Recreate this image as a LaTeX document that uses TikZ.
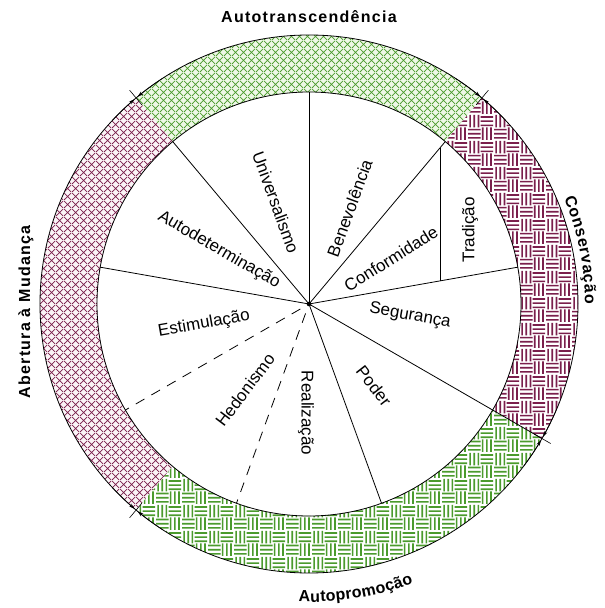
\documentclass[tikz,border=0pt]{standalone}
\usepackage{fontspec}
\setmainfont{Liberation Sans}
\usetikzlibrary{patterns,decorations.text,arrows.meta}

\definecolor{grnline}{HTML}{4B9B2D}
\definecolor{grnfill}{HTML}{EEF8E6}
\definecolor{purline}{HTML}{7A1F4C}
\definecolor{purfill}{HTML}{FBF4F7}

% basket weave: checkerboard of cells holding three parallel bars
\pgfdeclarepatternformonly{weave}{\pgfqpoint{0pt}{0pt}}{\pgfqpoint{26pt}{26pt}}{\pgfqpoint{26pt}{26pt}}{%
  \pgfsetlinewidth{1.7pt}%
  \foreach \o in {2.2,6.5,10.8}{%
    \pgfpathmoveto{\pgfpoint{0pt}{\o pt}}\pgfpathlineto{\pgfpoint{13pt}{\o pt}}%
    \pgfpathmoveto{\pgfpoint{13pt}{13pt+\o pt}}\pgfpathlineto{\pgfpoint{26pt}{13pt+\o pt}}%
    \pgfpathmoveto{\pgfpoint{13pt+\o pt}{0pt}}\pgfpathlineto{\pgfpoint{13pt+\o pt}{13pt}}%
    \pgfpathmoveto{\pgfpoint{\o pt}{13pt}}\pgfpathlineto{\pgfpoint{\o pt}{26pt}}%
  }%
  \pgfusepath{stroke}}

% diagonal lattice
\pgfdeclarepatternformonly{diaggrid}{\pgfqpoint{0pt}{0pt}}{\pgfqpoint{8pt}{8pt}}{\pgfqpoint{8pt}{8pt}}{%
  \pgfsetlinewidth{0.8pt}%
  \pgfpathmoveto{\pgfqpoint{0pt}{0pt}}\pgfpathlineto{\pgfqpoint{8pt}{8pt}}%
  \pgfpathmoveto{\pgfqpoint{0pt}{8pt}}\pgfpathlineto{\pgfqpoint{8pt}{0pt}}%
  \pgfusepath{stroke}}

\begin{document}
\begin{tikzpicture}[x=1pt,y=1pt,
  spoke/.style={line width=0.8pt},
  lbl/.style={font=\fontsize{17}{17}\selectfont},
  ringlbl/.style={font=\fontsize{16}{16}\selectfont\bfseries\addfontfeature{LetterSpace=8}},
  sector/.style 2 args={insert path={(#1:212) arc[start angle=#1,end angle=#2,radius=212]
      -- (#2:269) arc[start angle=#2,end angle=#1,radius=269] -- cycle}},
  tip/.style={-{Stealth[length=6pt,width=3.5pt]}, line width=0.6pt},
]
\useasboundingbox (-309,-304) rectangle (296,304);
\coordinate (c) at (0,0);

% ring segments
\fill[grnfill] [sector={50}{130}];
\fill[pattern=diaggrid, pattern color=grnline] [sector={50}{130}];
\fill[purfill] [sector={130}{230}];
\fill[pattern=diaggrid, pattern color=purline] [sector={130}{230}];
\fill[white] [sector={230}{330}];
\fill[pattern=weave, pattern color=grnline] [sector={230}{330}];
\fill[white] [sector={-30}{50}];
\fill[pattern=weave, pattern color=purline] [sector={-30}{50}];

% circles
\draw[line width=0.8pt] (c) circle (212);
\draw[line width=0.8pt] (c) circle (269);

% spokes
\foreach \a in {130,90,50,10,170,-70}
  \draw[spoke] (c) -- (\a:212);
\draw[spoke] (c) -- (-30:269);
\draw[spoke] (131,{131*tan(50)}) -- (131,{131*tan(10)});
\foreach \a in {210,250}
  \draw[spoke, dash pattern=on 10pt off 8pt] (\a:10) -- (\a:212);
\fill (c) circle (2.3);

% boundary ticks with arrowheads
\foreach \a in {130,50,-30,230}{
  \draw[line width=0.6pt] (\a:260) -- (\a:279);
  \draw[tip] (\a+7:269) arc[start angle=\a+7,end angle=\a+0.4,radius=269];
  \draw[tip] (\a-7:269) arc[start angle=\a-7,end angle=\a-0.4,radius=269];
}

% value labels
\node[lbl, rotate=-70] (univ) at (108:107) {Universalismo};
\node[lbl, rotate=70]  (bene) at (67:104) {Benevolência};
\node[lbl, rotate=32]  (conf) at (82,45) {Conformidade};
\node[lbl, rotate=90]  (trad) at (161,74) {Tradição};
\node[lbl, rotate=-10] (segu) at (101,-12) {Segurança};
\node[lbl, rotate=-52] (pode) at (65,-82) {Poder};
\node[lbl, rotate=-90] (real) at (-3,-109) {Realização};
\node[lbl, rotate=53]  (hedo) at (-64,-86) {Hedonismo};
\node[lbl, rotate=10]  (esti) at (-105,-20) {Estimulação};
\node[lbl, rotate=-30] (autd) at (-90,54) {Autodeterminação};

% dimension labels
\node[ringlbl] (trans) at (0,287) {Autotranscendência};
\node[ringlbl, rotate=90] (aber) at (-283,-8) {Abertura à Mudança};
\path[decorate, decoration={text along path, text align=fit to path,
  text={|\fontsize{16}{16}\selectfont\bfseries|Conservação}}]
  (22.5:276) arc[start angle=22.5,end angle=0,radius=276];
\path[decorate, decoration={text along path, text align=fit to path,
  text={|\fontsize{16}{16}\selectfont\bfseries|Autopromoção}}]
  (-92:298) arc[start angle=-92,end angle=-69.5,radius=298];
\end{tikzpicture}
\end{document}
